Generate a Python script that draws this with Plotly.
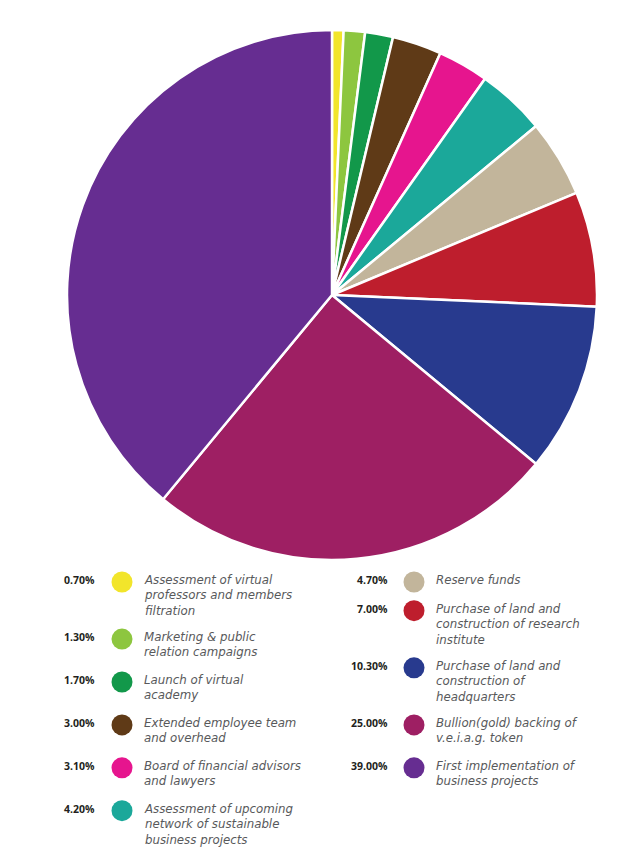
import plotly.graph_objects as go

# ---------------------------------------------------------------------------------------------------------------- Data
PERCENTS = [0.7, 1.3, 1.7, 3.0, 3.1, 4.2, 4.7, 7.0, 10.3, 25.0, 39.0]
LABELS = [
    "Assessment of virtual<br>professors and members<br>filtration",
    "Marketing & public<br>relation campaigns",
    "Launch of virtual<br>academy",
    "Extended employee team<br>and overhead",
    "Board of financial advisors<br>and lawyers",
    "Assessment of upcoming<br>network of sustainable<br>business projects",
    "Reserve funds",
    "Purchase of land and<br>construction of research<br>institute",
    "Purchase of land and<br>construction of<br>headquarters",
    "Bullion(gold) backing of<br>v.e.i.a.g. token",
    "First implementation of<br>business projects",
]
COLORS = [
    "#F2E52B", "#8DC63F", "#12984A", "#5F3A17", "#E6158E", "#1BA89A",
    "#C2B59B", "#BE1E2D", "#283A8E", "#9E1F63", "#662D91",
]
LEFT_COUNT = 6

# page body has an 8px margin, so the figure is drawn 8px smaller and shifted
OFF = 8
W, H = 640 - OFF, 858 - OFF

fig = go.Figure()
fig.add_trace(
    go.Pie(
        values=PERCENTS,
        labels=[lbl.replace("<br>", " ") for lbl in LABELS],
        sort=False,
        direction="clockwise",
        rotation=0,
        marker=dict(colors=COLORS, line=dict(color="white", width=2.5)),
        textinfo="none",
        hoverinfo="label+percent",
        domain=dict(x=[(67 - OFF) / W, (597 - OFF) / W], y=[1 - (560 - OFF) / H, 1 - (30 - OFF) / H]),
        showlegend=False,
    )
)

# ------------------------------------------------------------------------------------------------------ Custom legend
LINE_H = 14.2
GAP = 14.5
columns = [
    dict(pct_x=97, dot_x=122, txt_x=142),
    dict(pct_x=390, dot_x=414, txt_x=434),
]
dot_x, dot_y = [], []
annotations = []
for col_idx, idxs in enumerate([range(0, LEFT_COUNT), range(LEFT_COUNT, len(PERCENTS))]):
    col = columns[col_idx]
    y = 580 - OFF
    for i in idxs:
        n_lines = LABELS[i].count("<br>") + 1
        dot_x.append(col["dot_x"] - OFF)
        dot_y.append(y + 2)
        annotations.append(
            dict(
                x=col["pct_x"] - OFF, y=y, xref="x", yref="y", text=f"<b>{PERCENTS[i]:.2f}%</b>",
                showarrow=False, xanchor="right", yanchor="middle",
                font=dict(family="Open Sans", size=10.5, color="#231F20"),
            )
        )
        annotations.append(
            dict(
                x=col["txt_x"] - OFF, y=y - 9, xref="x", yref="y", text=f"<i>{LABELS[i]}</i>",
                showarrow=False, xanchor="left", yanchor="top", align="left",
                font=dict(family="DejaVu Sans", size=11.8, color="#58595B"),
            )
        )
        y += n_lines * LINE_H + GAP

fig.add_trace(
    go.Scatter(
        x=dot_x, y=dot_y, mode="markers",
        marker=dict(size=21, color=COLORS, line=dict(width=0)),
        hoverinfo="skip", showlegend=False,
    )
)

fig.update_layout(
    width=W,
    height=H,
    margin=dict(l=0, r=0, t=0, b=0),
    paper_bgcolor="white",
    plot_bgcolor="rgba(0,0,0,0)",
    xaxis=dict(range=[0, W], domain=[0, 1], visible=False, fixedrange=True),
    yaxis=dict(range=[H, 0], domain=[0, 1], visible=False, fixedrange=True),
    annotations=annotations,
)

fig.write_html("out.html")
